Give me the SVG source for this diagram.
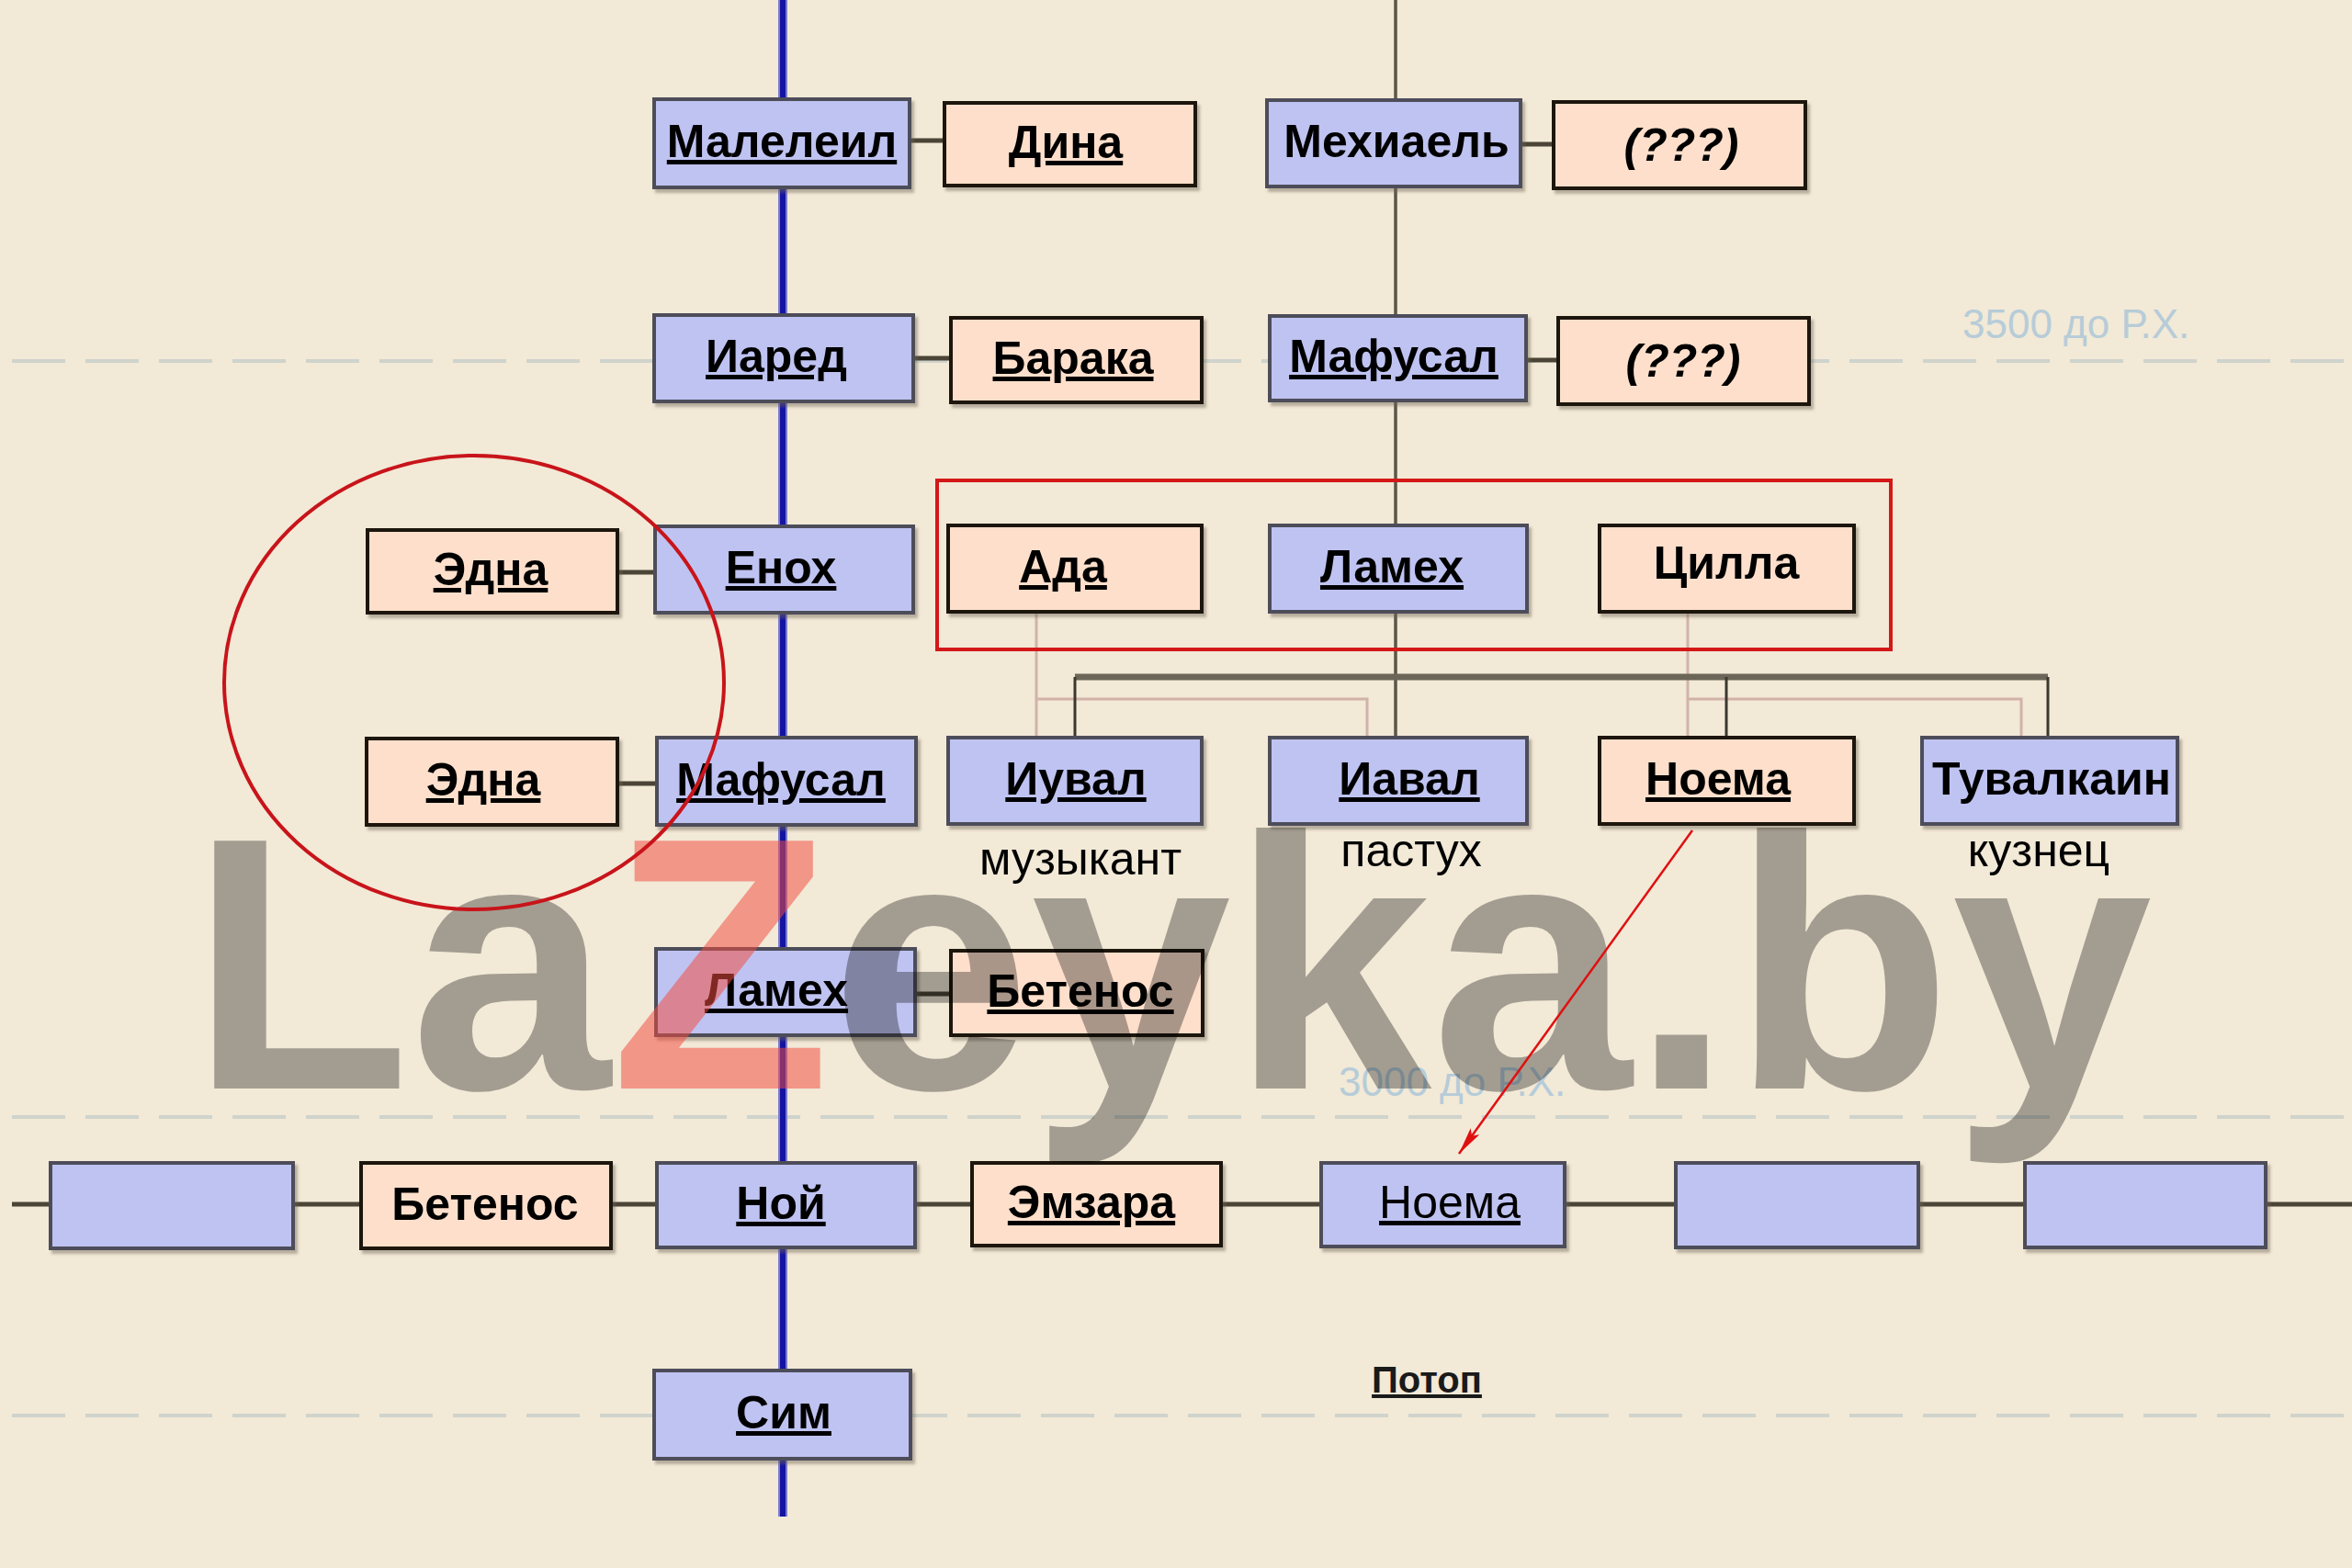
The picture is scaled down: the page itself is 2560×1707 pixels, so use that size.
<svg xmlns="http://www.w3.org/2000/svg" width="2560" height="1707" viewBox="0 0 2560 1707">
<style>
.b{fill:#bfc3f1;stroke:#4e4e5a;stroke-width:4;filter:url(#ds)}
.p{fill:#fddfcb;stroke:#1a120a;stroke-width:4;filter:url(#ds)}
.t{font-family:"Liberation Sans",Arial,sans-serif;font-weight:bold;font-size:50px;text-anchor:middle;fill:#000}
.u{text-decoration:underline;text-decoration-thickness:5px;text-underline-offset:7px}
.i{font-style:italic}
.r{font-weight:normal}
.lab{font-family:"Liberation Sans",Arial,sans-serif;font-size:50px;text-anchor:middle;fill:#000}
.sp{stroke:#4a4536;stroke-width:5;fill:none}
.dash{stroke:#cfd3cb;stroke-width:4;stroke-dasharray:58 22;fill:none}
.date{font-family:"Liberation Sans",Arial,sans-serif;font-size:44px;fill:#b6ccd8}
.pk{stroke:#d2b2aa;stroke-width:3;fill:none}
.dk{stroke:#3c3830;stroke-width:3;fill:none}
</style>
<defs>
<filter id="ds" x="-5%" y="-10%" width="115%" height="130%">
<feDropShadow dx="3" dy="4" stdDeviation="1.5" flood-color="#6e6454" flood-opacity="0.45"/>
</filter>
<marker id="arr" viewBox="0 0 30 12" refX="30" refY="6" markerWidth="30" markerHeight="12" markerUnits="userSpaceOnUse" orient="auto">
<path d="M0,0 L30,6 L0,12 L6,6 Z" fill="#e01010"/>
</marker>
</defs>
<rect width="2560" height="1707" fill="#f2e9d7"/>
<g id="timeline">
<line class="dash" x1="13" y1="393" x2="2560" y2="393"/>
<line class="dash" x1="13" y1="1216" x2="2560" y2="1216"/>
<line class="dash" x1="13" y1="1541" x2="2560" y2="1541"/>
<text class="date" x="2136" y="368">3500 до Р.Х.</text>
<text class="date" x="1457" y="1193">3000 до Р.Х.</text>
</g>
<g id="connectors">
<line x1="852" y1="0" x2="852" y2="1651" stroke="#7b7bd0" stroke-width="10"/>
<line x1="852" y1="0" x2="852" y2="1651" stroke="#1414a0" stroke-width="6"/>
<line x1="1519" y1="0" x2="1519" y2="803" stroke="#5c5648" stroke-width="3.5"/>
<line class="sp" x1="990" y1="153" x2="1028" y2="153"/>
<line class="sp" x1="1655" y1="157" x2="1691" y2="157"/>
<line class="sp" x1="994" y1="390" x2="1035" y2="390"/>
<line class="sp" x1="1661" y1="392" x2="1696" y2="392"/>
<line class="sp" x1="672" y1="623" x2="713" y2="623"/>
<line class="sp" x1="672" y1="853" x2="715" y2="853"/>
<line class="sp" x1="996" y1="1082" x2="1035" y2="1082"/>
<line class="sp" x1="13" y1="1311" x2="2560" y2="1311"/>
<path class="pk" d="M1128,666 V803 M1128,761 H1488 V803 M1837,666 V803 M1837,761 H2200 V803"/>
<line x1="1170" y1="737" x2="2229" y2="737" stroke="#6b6658" stroke-width="7"/>
<path class="dk" d="M1170,737 V803 M1879,737 V803 M2229,737 V803"/>
</g>
<g id="n-maleleil"><rect class="b" x="712" y="108" width="278" height="96"/><text class="t u" x="851" y="171">Малелеил</text></g>
<g id="n-dina"><rect class="p" x="1028" y="112" width="273" height="90"/><text class="t u" x="1160" y="172">Дина</text></g>
<g id="n-mehiael"><rect class="b" x="1379" y="109" width="276" height="94"/><text class="t" x="1520" y="171">Мехиаель</text></g>
<g id="n-unknown1"><rect class="p" x="1691" y="111" width="274" height="94"/><text class="t i" x="1830" y="175">(???)</text></g>
<g id="n-iared"><rect class="b" x="712" y="343" width="282" height="94"/><text class="t u" x="845" y="405">Иаред</text></g>
<g id="n-baraka"><rect class="p" x="1035" y="346" width="273" height="92"/><text class="t u" x="1168" y="407">Барака</text></g>
<g id="n-mafusal-r"><rect class="b" x="1382" y="344" width="279" height="92"/><text class="t u" x="1517" y="405">Мафусал</text></g>
<g id="n-unknown2"><rect class="p" x="1696" y="346" width="273" height="94"/><text class="t i" x="1832" y="410">(???)</text></g>
<g id="n-edna1"><rect class="p" x="400" y="577" width="272" height="90"/><text class="t u" x="534" y="637">Эдна</text></g>
<g id="n-enoh"><rect class="b" x="713" y="573" width="281" height="94"/><text class="t u" x="850" y="635">Енох</text></g>
<g id="n-ada"><rect class="p" x="1032" y="572" width="276" height="94"/><text class="t u" x="1157" y="634">Ада</text></g>
<g id="n-lameh-r"><rect class="b" x="1382" y="572" width="280" height="94"/><text class="t u" x="1515" y="634">Ламех</text></g>
<g id="n-cilla"><rect class="p" x="1741" y="572" width="277" height="94"/><text class="t" x="1879" y="630">Цилла</text></g>
<g id="n-edna2"><rect class="p" x="399" y="804" width="273" height="94"/><text class="t u" x="526" y="866">Эдна</text></g>
<g id="n-mafusal-l"><rect class="b" x="715" y="803" width="282" height="95"/><text class="t u" x="850" y="866">Мафусал</text></g>
<g id="n-iuval"><rect class="b" x="1032" y="803" width="276" height="94"/><text class="t u" x="1171" y="865">Иувал</text></g>
<g id="n-iaval"><rect class="b" x="1382" y="803" width="280" height="94"/><text class="t u" x="1534" y="865">Иавал</text></g>
<g id="n-noema1"><rect class="p" x="1741" y="803" width="277" height="94"/><text class="t u" x="1870" y="865">Ноема</text></g>
<g id="n-tuvalkain"><rect class="b" x="2092" y="803" width="278" height="94"/><text class="t" x="2233" y="865">Тувалкаин</text></g>
<g id="n-lameh-l"><rect class="b" x="714" y="1033" width="282" height="94"/><text class="t u" x="845" y="1095">Ламех</text></g>
<g id="n-betenos1"><rect class="p" x="1035" y="1035" width="274" height="92"/><text class="t u" x="1176" y="1096">Бетенос</text></g>
<g id="n-blank1"><rect class="b" x="55" y="1266" width="264" height="93"/></g>
<g id="n-betenos2"><rect class="p" x="393" y="1266" width="272" height="93"/><text class="t" x="528" y="1328">Бетенос</text></g>
<g id="n-noi"><rect class="b" x="715" y="1266" width="281" height="92"/><text class="t u" x="850" y="1327">Ной</text></g>
<g id="n-emzara"><rect class="p" x="1058" y="1266" width="271" height="90"/><text class="t u" x="1188" y="1326">Эмзара</text></g>
<g id="n-noema2"><rect class="b" x="1438" y="1266" width="265" height="91"/><text class="t u r" x="1578" y="1326">Ноема</text></g>
<g id="n-blank2"><rect class="b" x="1824" y="1266" width="264" height="92"/></g>
<g id="n-blank3"><rect class="b" x="2204" y="1266" width="262" height="92"/></g>
<g id="n-sim"><rect class="b" x="712" y="1492" width="279" height="96"/><text class="t u" x="853" y="1555">Сим</text></g>
<g id="labels">
<text class="lab" x="1176" y="952">музыкант</text>
<text class="lab" x="1536" y="943">пастух</text>
<text class="lab" x="2219" y="943">кузнец</text>
<text class="t u" x="1553" y="1516" style="font-size:40px;fill:#1a1a1a">Потоп</text>
</g>
<g id="watermark" style="font-family:'Liberation Sans',Arial,sans-serif;font-weight:bold;font-size:392px">
<text x="207" y="1185"><tspan fill="#000" fill-opacity="0.325">La</tspan><tspan fill="#f24c40" fill-opacity="0.53">Z</tspan><tspan fill="#000" fill-opacity="0.325">eyka.by</tspan></text>
</g>
<g id="annotations">
<ellipse cx="516" cy="743" rx="272" ry="247" fill="none" stroke="#c8141a" stroke-width="4"/>
<rect x="1020" y="523" width="1038" height="184" fill="none" stroke="#d41818" stroke-width="4"/>
<line x1="1842" y1="904" x2="1588" y2="1256" stroke="#e01010" stroke-width="2.5" marker-end="url(#arr)"/>
</g>
</svg>
